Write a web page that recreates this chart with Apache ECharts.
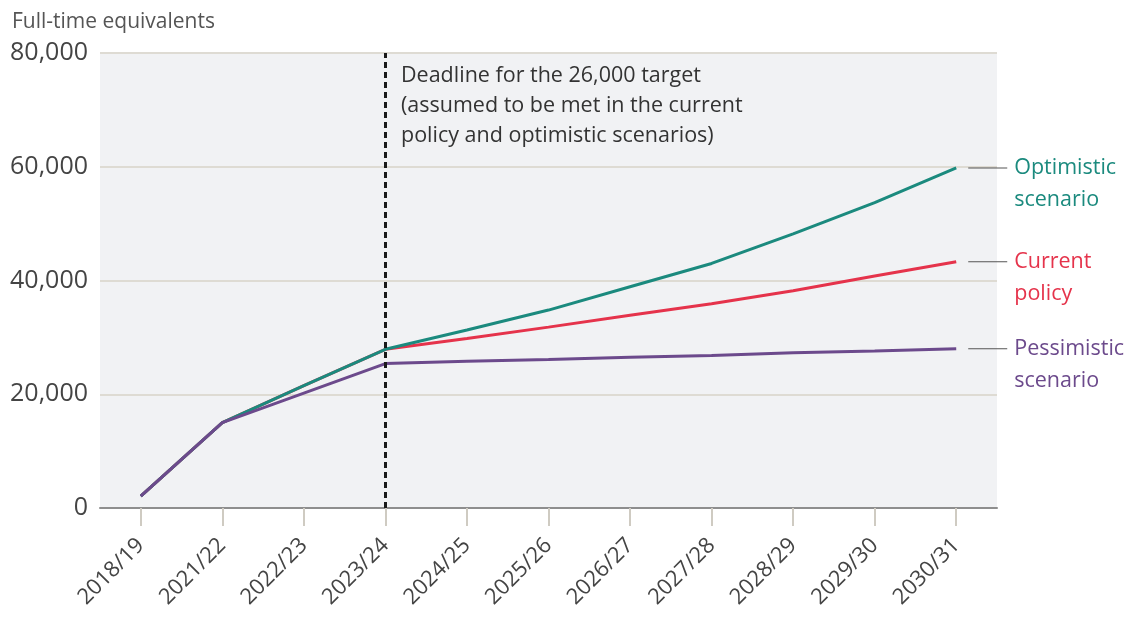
<!DOCTYPE html>
<html>
<head>
<meta charset="utf-8">
<script src="https://cdn.jsdelivr.net/npm/echarts@6/dist/echarts.min.js"></script>
<style>
  html, body { margin: 0; padding: 0; background: #fff; }
  #main { width: 1134px; height: 617px; }
</style>
</head>
<body>
<div id="main"></div>
<script>
// 数据
var years = ['2018/19', '2021/22', '2022/23', '2023/24', '2024/25', '2025/26',
             '2026/27', '2027/28', '2028/29', '2029/30', '2030/31'];
var optimistic = [2100, 15000, 21500, 27900, 31300, 34800, 38900, 43000, 48200, 53700, 59800];
var currentPolicy = [2100, 15000, 21500, 27900, 29800, 31800, 33900, 35900, 38200, 40800, 43300];
var pessimistic = [2100, 15000, 20200, 25400, 25800, 26100, 26500, 26800, 27300, 27600, 28000];
var yTicks = [0, 20000, 40000, 60000, 80000];
var deadlineYear = '2023/24';

var FONT = 'Open Sans';
var WEIGHT = 400;
var myChart = echarts.init(document.getElementById('main'));

function endLabel(color, l1, l2) {
    return {
        show: true,
        distance: 12,
        offset: [0, 16],
        formatter: '{l|}{t|' + l1 + '}\n{s|}{t|' + l2 + '}',
        rich: {
            l: { width: 39, height: 1, backgroundColor: '#555' },
            s: { width: 39, height: 1 },
            t: { color: color, fontSize: 21.5, fontFamily: FONT, fontWeight: WEIGHT,
                 padding: [0, 0, 0, 7], lineHeight: 32 }
        }
    };
}

option = {
    animation: false,
    title: {
        text: 'Full-time equivalents',
        left: 7, top: 7,
        textStyle: { fontSize: 21, fontWeight: WEIGHT, color: '#555', fontFamily: FONT }
    },
    grid: {
        left: 100, right: 137, top: 53, bottom: 109,
        show: true, backgroundColor: '#f1f2f4', borderWidth: 0
    },
    xAxis: {
        type: 'category',
        data: years,
        axisLine: { show: true, lineStyle: { color: '#8e8e8e', width: 2 } },
        axisTick: { show: true, interval: 0, alignWithLabel: true, length: 18,
                    lineStyle: { color: '#cfcbc2', width: 2 } },
        axisLabel: { interval: 0, rotate: 45, margin: 34, fontSize: 22, color: '#444',
                     fontFamily: FONT, fontWeight: WEIGHT }
    },
    yAxis: {
        type: 'value',
        min: yTicks[0], max: yTicks[yTicks.length - 1], interval: 20000,
        axisLine: { show: false },
        axisTick: { show: false },
        splitLine: { lineStyle: { color: '#dedbd3', width: 2 } },
        axisLabel: {
            fontSize: 25, color: '#444', margin: 12, fontFamily: FONT, fontWeight: WEIGHT,
            formatter: function (v) { return v.toLocaleString('en-US'); }
        }
    },
    series: [
        {
            name: 'Current policy', type: 'line', data: currentPolicy,
            symbol: 'none', lineStyle: { color: '#e5334b', width: 3 },
            endLabel: endLabel('#e5334b', 'Current', 'policy'),
            markLine: {
                silent: true, symbol: 'none',
                label: { show: false },
                lineStyle: { color: '#1a1a1a', width: 3, type: [6, 4] },
                data: [{ xAxis: deadlineYear }]
            }
        },
        {
            name: 'Optimistic scenario', type: 'line', data: optimistic,
            symbol: 'none', lineStyle: { color: '#1b8a7e', width: 3 },
            endLabel: endLabel('#1b8a7e', 'Optimistic', 'scenario')
        },
        {
            name: 'Pessimistic scenario', type: 'line', data: pessimistic,
            symbol: 'none', lineStyle: { color: '#6c4a8c', width: 3 },
            endLabel: endLabel('#6c4a8c', 'Pessimistic', 'scenario')
        }
    ],
    graphic: [{
        type: 'text', left: 401, top: 61,
        style: {
            text: 'Deadline for the 26,000 target\n(assumed to be met in the current\npolicy and optimistic scenarios)',
            fontSize: 21.5, lineHeight: 30, fill: '#333', fontFamily: FONT, fontWeight: WEIGHT
        }
    }]
};

myChart.setOption(option);
</script>
</body>
</html>
